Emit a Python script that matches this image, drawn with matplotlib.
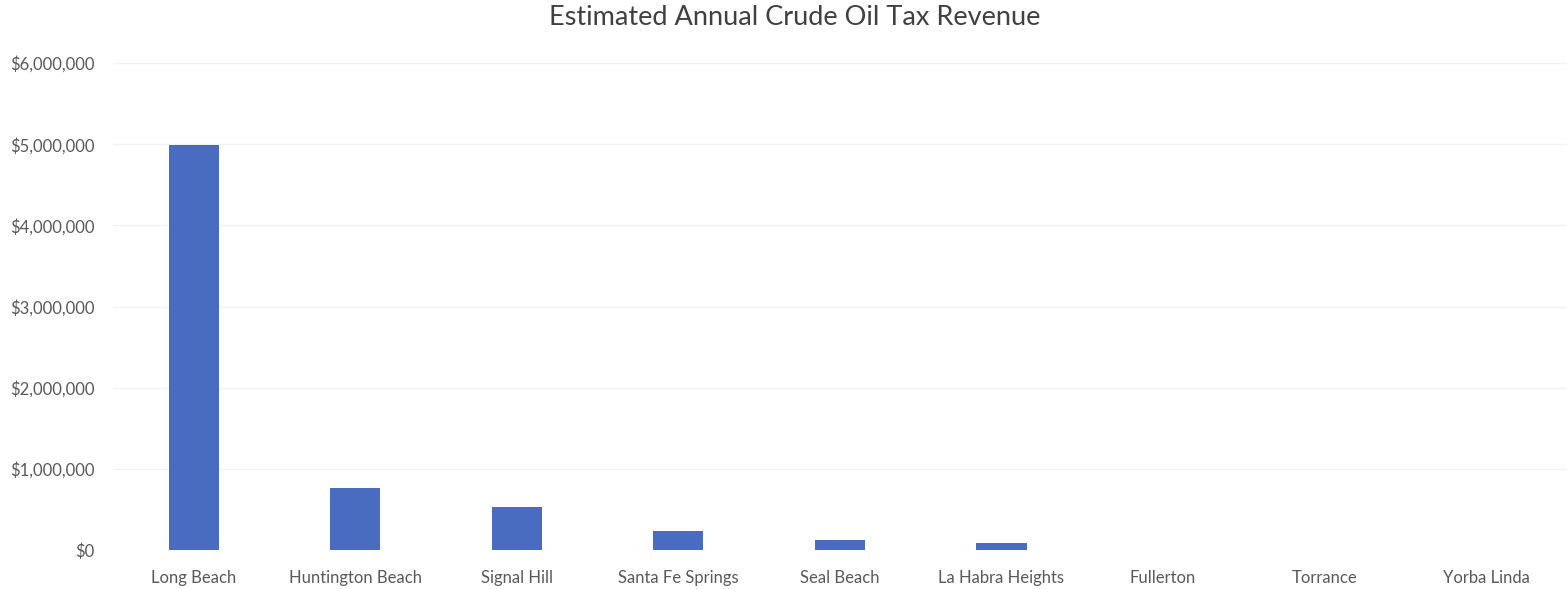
import matplotlib.pyplot as plt
import matplotlib.ticker as mticker
import numpy as np

cities = ['Long Beach', 'Huntington Beach', 'Signal Hill', 'Santa Fe Springs',
          'Seal Beach', 'La Habra Heights', 'Fullerton', 'Torrance', 'Yorba Linda']
revenue = [4990000, 760000, 530000, 240000, 130000, 90000, 4000, 3000, 2000]

plt.rcParams['font.family'] = ['Lato', 'DejaVu Sans']

fig = plt.figure(figsize=(15.67, 5.89), dpi=100)
ax = fig.add_axes([0.072, 0.066, 0.928, 0.827])

x = np.arange(len(cities))
ax.bar(x, revenue, width=0.31, color='#4a6cc0', zorder=3)

ax.set_xlim(-0.5, len(cities) - 0.5)
ax.set_ylim(0, 6000000)
ax.set_yticks(np.arange(0, 6000001, 1000000))
ax.yaxis.set_major_formatter(mticker.FuncFormatter(lambda v, p: '${:,.0f}'.format(v)))
ax.set_xticks(x)
ax.set_xticklabels(cities)
ax.grid(axis='y', color='#f2f2f2', linewidth=1, zorder=0)

for s in ax.spines.values():
    s.set_visible(False)
ax.tick_params(axis='both', length=0, labelsize=12, colors='#595959')
ax.tick_params(axis='y', pad=13)
ax.tick_params(axis='x', pad=14)

fig.text(0.507, 0.97, 'Estimated Annual Crude Oil Tax Revenue', ha='center', va='center',
         fontsize=19.5, color='#404040')

fig.savefig('out.png', dpi=100)
